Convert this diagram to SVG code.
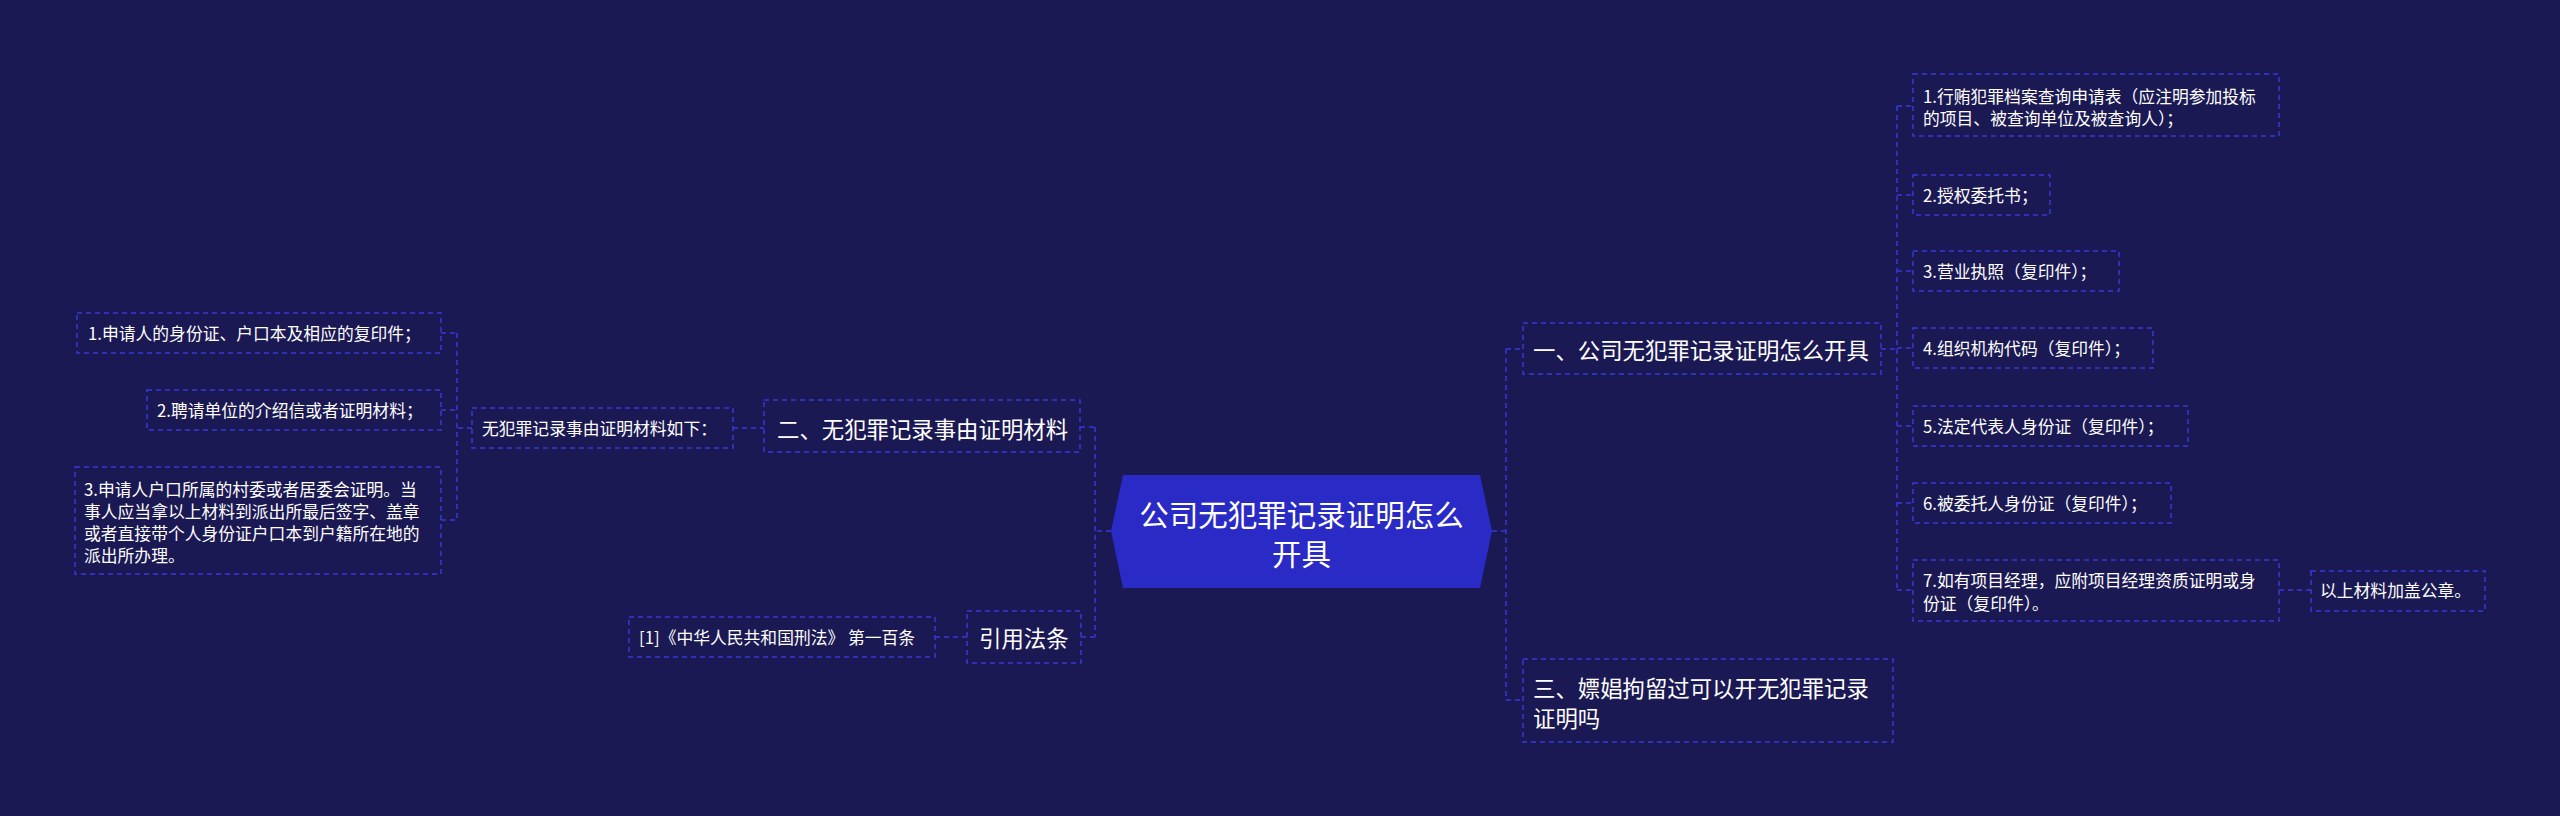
<svg xmlns="http://www.w3.org/2000/svg" width="2560" height="816" viewBox="0 0 2560 816">
<style>
.bg{fill:#1b1953}
.box{fill:#1b1953;stroke:#3838d8;stroke-width:1.5;stroke-dasharray:5 4}
.con{fill:none;stroke:#3838d8;stroke-width:1.5;stroke-dasharray:5 4}
text{font-family:"Noto Sans CJK SC","Noto Sans",sans-serif;fill:#ffffff;dominant-baseline:central}
.t1{font-size:29.5px}
.t2{font-size:22.4px}
.t3{font-size:16.8px}
</style>
<rect class="bg" x="0" y="0" width="2560" height="816"/>
<g id="connectors">
<path class="con" d="M1492,531 H1506 M1506,349 V700 M1506,349 H1523 M1506,700 H1523"/>
<path class="con" d="M1881,349 H1897 M1897,106 V590 M1897,106 H1913 M1897,195 H1913 M1897,271 H1913 M1897,348 H1913 M1897,426 H1913 M1897,503 H1913 M1897,590 H1913"/>
<path class="con" d="M2279,590 H2311"/>
<path class="con" d="M1111,531 H1095 M1095,427 V637 M1080,427 H1095 M1081,637 H1095"/>
<path class="con" d="M733,428 H764"/>
<path class="con" d="M472,428 H457 M457,333 V520 M441,333 H457 M441,410 H457 M441,520 H457"/>
<path class="con" d="M935,637 H967"/>
</g>
<g id="center">
<polygon points="1111,531 1123,475 1480,475 1492,531 1480,588 1123,588" fill="#2a2ac6"/>
<text class="t1" x="1301.5" y="513" text-anchor="middle">公司无犯罪记录证明怎么</text>
<text class="t1" x="1301.5" y="552" text-anchor="middle">开具</text>
</g>
<g id="n1">
<rect class="box" x="1523" y="323" width="358" height="51"/>
<text class="t2" x="1533" y="349">一、公司无犯罪记录证明怎么开具</text>
</g>
<g id="n3">
<rect class="box" x="1523" y="659" width="370" height="83"/>
<text class="t2" x="1533" y="687">三、嫖娼拘留过可以开无犯罪记录</text>
<text class="t2" x="1533" y="717">证明吗</text>
</g>
<g id="n2">
<rect class="box" x="764" y="400" width="316" height="52"/>
<text class="t2" x="777" y="428">二、无犯罪记录事由证明材料</text>
</g>
<g id="law">
<rect class="box" x="967" y="611" width="114" height="52"/>
<text class="t2" x="979" y="637">引用法条</text>
</g>
<g id="r1">
<rect class="box" x="1913" y="74" width="366" height="62"/>
<text class="t3" x="1923" y="96">1.行贿犯罪档案查询申请表（应注明参加投标</text>
<text class="t3" x="1923" y="118">的项目、被查询单位及被查询人）；</text>
</g>
<g id="r2">
<rect class="box" x="1913" y="175" width="137" height="40"/>
<text class="t3" x="1923" y="195">2.授权委托书；</text>
</g>
<g id="r3">
<rect class="box" x="1913" y="251" width="206" height="40"/>
<text class="t3" x="1923" y="271">3.营业执照（复印件）；</text>
</g>
<g id="r4">
<rect class="box" x="1913" y="328" width="240" height="40"/>
<text class="t3" x="1923" y="348">4.组织机构代码（复印件）；</text>
</g>
<g id="r5">
<rect class="box" x="1913" y="406" width="275" height="40"/>
<text class="t3" x="1923" y="426">5.法定代表人身份证（复印件）；</text>
</g>
<g id="r6">
<rect class="box" x="1913" y="483" width="258" height="40"/>
<text class="t3" x="1923" y="503">6.被委托人身份证（复印件）；</text>
</g>
<g id="r7">
<rect class="box" x="1913" y="560" width="366" height="61"/>
<text class="t3" x="1923" y="580">7.如有项目经理，应附项目经理资质证明或身</text>
<text class="t3" x="1923" y="603">份证（复印件）。</text>
</g>
<g id="r8">
<rect class="box" x="2311" y="571" width="174" height="40"/>
<text class="t3" x="2320" y="590">以上材料加盖公章。</text>
</g>
<g id="mid">
<rect class="box" x="472" y="408" width="261" height="40"/>
<text class="t3" x="482" y="428">无犯罪记录事由证明材料如下：</text>
</g>
<g id="l1">
<rect class="box" x="77" y="313" width="364" height="40"/>
<text class="t3" x="88" y="333">1.申请人的身份证、户口本及相应的复印件；</text>
</g>
<g id="l2">
<rect class="box" x="147" y="390" width="294" height="40"/>
<text class="t3" x="157" y="410">2.聘请单位的介绍信或者证明材料；</text>
</g>
<g id="l3">
<rect class="box" x="75" y="467" width="366" height="107"/>
<text class="t3" x="84" y="489">3.申请人户口所属的村委或者居委会证明。当</text>
<text class="t3" x="84" y="511">事人应当拿以上材料到派出所最后签字、盖章</text>
<text class="t3" x="84" y="533">或者直接带个人身份证户口本到户籍所在地的</text>
<text class="t3" x="84" y="555">派出所办理。</text>
</g>
<g id="lawleaf">
<rect class="box" x="629" y="617" width="306" height="40"/>
<text class="t3" x="639" y="637">[1]《中华人民共和国刑法》 第一百条</text>
</g>
</svg>
